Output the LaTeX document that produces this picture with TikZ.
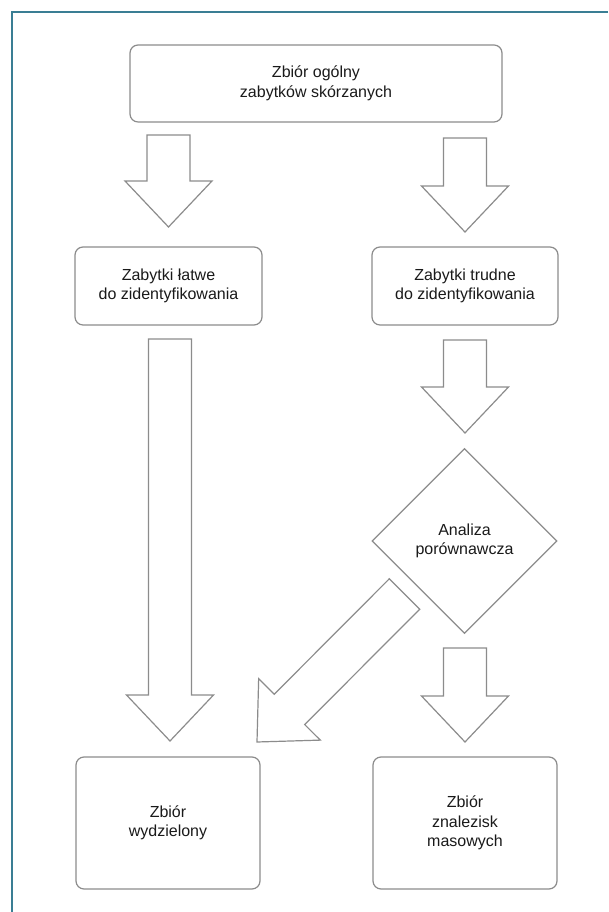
\documentclass[tikz,border=0pt]{standalone}
\usepackage{fontspec}
\setmainfont{Liberation Sans}
\usetikzlibrary{calc,shapes.geometric}
\definecolor{frame}{HTML}{3A7E94}
\definecolor{edge}{HTML}{8C8C8C}
\definecolor{txt}{HTML}{1A1A1A}

% hollow block arrow from #1 to the tip #2
\newcommand{\fatarrow}[2]{%
  \draw[barrow] let \p1=($(#2)-(#1)$), \n1={atan2(\y1,\x1)}, \n2={veclen(\x1,\y1)} in
    ($(#1)+(\n1+90:21.5)$) -- ($(#1)+(\n1:{\n2-46})+(\n1+90:21.5)$)
    -- ($(#1)+(\n1:{\n2-46})+(\n1+90:43.5)$) -- (#2)
    -- ($(#1)+(\n1:{\n2-46})+(\n1-90:43.5)$) -- ($(#1)+(\n1:{\n2-46})+(\n1-90:21.5)$)
    -- ($(#1)+(\n1-90:21.5)$) -- cycle;}

\begin{document}
\begin{tikzpicture}[
  x=1pt, y=1pt,
  box/.style={rectangle, rounded corners=8pt, draw=edge, line width=1.2pt, fill=white, align=center, text=txt, inner sep=0pt, font=\fontsize{16}{19.5}\selectfont},
  dec/.style={diamond, draw=edge, line width=1.2pt, fill=white, align=center, text=txt, inner sep=0pt, minimum width=185pt, minimum height=185pt, font=\fontsize{16}{19.5}\selectfont},
  barrow/.style={draw=edge, line width=1.2pt, fill=white, line join=miter},
]
\fill[white] (0,0) rectangle (608,912);
\useasboundingbox (0,0) rectangle (608,912);
\draw[frame, line width=1.6pt] (608,900) -- (12,900) -- (12,0);

\node[box, minimum width=372pt, minimum height=77pt] (general) at (316, 828.5) {Zbiór ogólny\\zabytków skórzanych};
\node[box, minimum width=187pt, minimum height=78pt] (easy) at (168.5, 626) {Zabytki łatwe\\do zidentyfikowania};
\node[box, minimum width=186pt, minimum height=78pt] (hard) at (465, 626) {Zabytki trudne\\do zidentyfikowania};
\node[dec] (compare) at (464.5, 371) {Analiza\\porównawcza};
\node[box, minimum width=184pt, minimum height=132pt] (separate) at (168, 89) {Zbiór\\wydzielony};
\node[box, minimum width=184pt, minimum height=132pt] (mass) at (465, 89) {Zbiór\\znalezisk\\masowych};

\coordinate (g2e) at (168.5, 777);
\coordinate (e2g) at (168.5, 685);
\coordinate (g2h) at (465, 774);
\coordinate (h2g) at (465, 680);
\coordinate (e2s) at (170, 573);
\coordinate (s2e) at (170, 171);
\coordinate (h2c) at (465, 572);
\coordinate (c2h) at (465, 479);
\coordinate (c2s) at (404.5, 318);
\coordinate (s2c) at (257, 170);
\coordinate (c2m) at (465, 264);
\coordinate (m2c) at (465, 170);

\fatarrow{g2e}{e2g}
\fatarrow{g2h}{h2g}
\fatarrow{e2s}{s2e}
\fatarrow{h2c}{c2h}
\fatarrow{c2s}{s2c}
\fatarrow{c2m}{m2c}

\end{tikzpicture}
\end{document}
